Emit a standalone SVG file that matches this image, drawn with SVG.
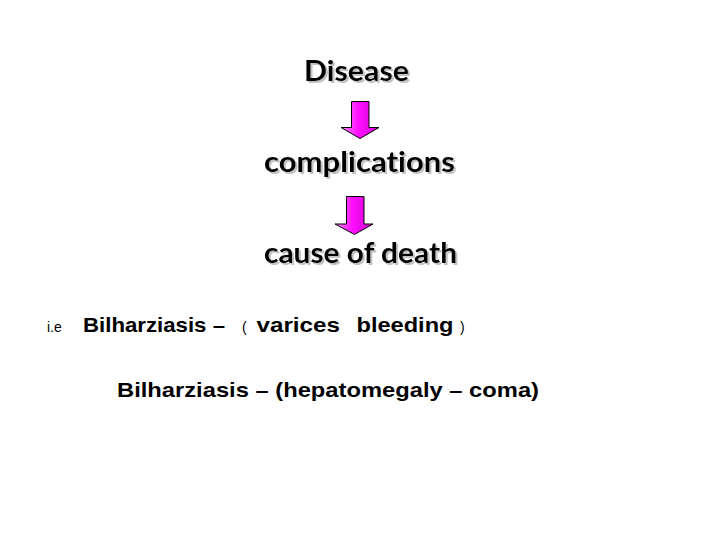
<svg xmlns="http://www.w3.org/2000/svg" width="720" height="540" viewBox="0 0 720 540">
  <defs>
    <linearGradient id="mag" x1="0" y1="0" x2="1" y2="0">
      <stop offset="0" stop-color="#ff8cff"/>
      <stop offset="0.45" stop-color="#ff10ff"/>
      <stop offset="1" stop-color="#d000d0"/>
    </linearGradient>
    <filter id="shadow" x="-5%" y="-20%" width="115%" height="150%">
      <feDropShadow dx="2" dy="2" stdDeviation="0.4" flood-color="#9a9a9a" flood-opacity="0.6"/>
    </filter>
    <style>
      .title { font-family: Lato, "Open Sans", sans-serif; font-weight: 700; font-size: 29px; fill: #000; font-variant-ligatures: none; filter: url(#shadow); }
      .b { font-family: "Liberation Sans", Arial, sans-serif; font-weight: 700; font-size: 21px; fill: #000; }
      .s { font-family: "Liberation Sans", Arial, sans-serif; font-weight: 400; font-size: 14px; fill: #000; }
      .arrow { fill: url(#mag); stroke: #000; stroke-width: 1; stroke-linejoin: miter; }
    </style>
  </defs>
  <rect width="720" height="540" fill="#fff"/>

  <g id="node-disease">
    <text class="title" x="304" y="81" textLength="105" lengthAdjust="spacingAndGlyphs">Disease</text>
  </g>
  <g id="node-complications">
    <text class="title" x="264" y="172" textLength="191" lengthAdjust="spacingAndGlyphs">complications</text>
  </g>
  <g id="node-cause">
    <text class="title" x="264" y="263" textLength="193" lengthAdjust="spacingAndGlyphs">cause of death</text>
  </g>

  <g id="connectors">
    <path class="arrow" d="M351.5,101.5 H369 V127.5 H379 L360,138.5 L341,127.5 H351.5 Z"/>
    <path class="arrow" d="M346.5,196.5 H364 V224 H373 L354.5,234.5 L335,224 H346.5 Z"/>
  </g>

  <g id="example-1">
    <text class="s" x="47" y="332">i.e</text>
    <text class="b" x="83" y="332" textLength="142" lengthAdjust="spacingAndGlyphs">Bilharziasis –</text>
    <text class="s" x="242" y="332">(</text>
    <text class="b" x="256.5" y="332" textLength="83.5" lengthAdjust="spacingAndGlyphs">varices</text>
    <text class="b" x="356.5" y="332" textLength="97" lengthAdjust="spacingAndGlyphs">bleeding</text>
    <text class="s" x="460" y="332">)</text>
  </g>

  <g id="example-2">
    <text class="b" x="117" y="397" textLength="422" lengthAdjust="spacingAndGlyphs">Bilharziasis – (hepatomegaly – coma)</text>
  </g>
</svg>
